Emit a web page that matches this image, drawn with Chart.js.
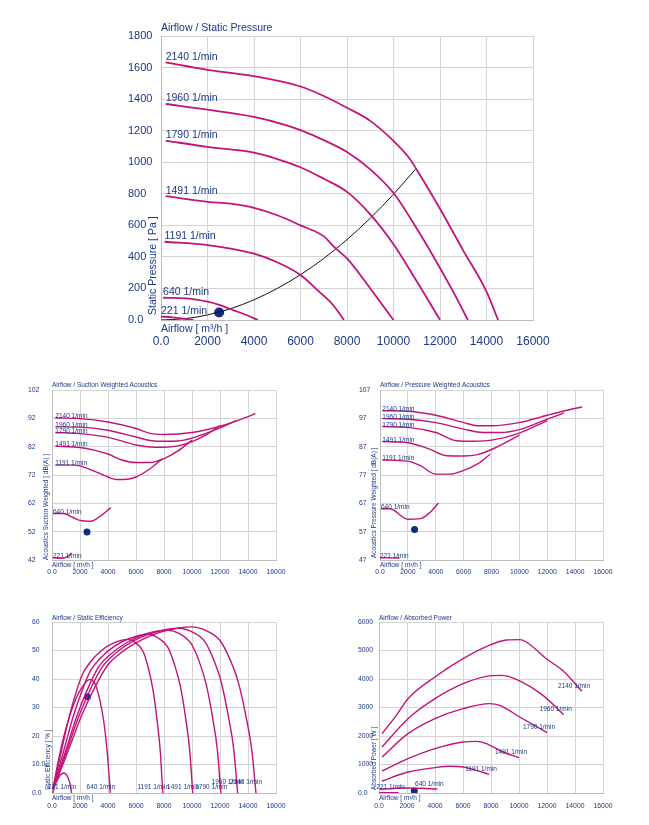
<!DOCTYPE html>
<html><head><meta charset="utf-8">
<script src="https://cdn.jsdelivr.net/npm/chart.js@4.4.1/dist/chart.umd.min.js"></script>
<style>
html,body{margin:0;padding:0;background:#fff;width:649px;height:825px;overflow:hidden}
canvas{position:absolute}
</style></head><body>
<canvas id="c1" width="465" height="345" style="left:100px;top:10px"></canvas>
<canvas id="c2" width="290" height="205" style="left:10px;top:375px"></canvas>
<canvas id="c3" width="300" height="205" style="left:335px;top:375px"></canvas>
<canvas id="c4" width="290" height="215" style="left:10px;top:605px"></canvas>
<canvas id="c5" width="300" height="215" style="left:335px;top:605px"></canvas>
<script>
// ---------- data ----------
const speeds = ['2140','1960','1790','1491','1191','640','221'];
const xTickLabels = ['0.0','2000','4000','6000','8000','10000','12000','14000','16000'];
const pressureTickLabels = ['0.0','200','400','600','800','1000','1200','1400','1600','1800'];
const suctionTickLabels = ['42','52','62','72','82','92','102'];
const pressureDbTickLabels = ['47','57','67','77','87','97','107'];
const efficiencyTickLabels = ['0.0','10.0','20','30','40','50','60'];
const powerTickLabels = ['0.0','1000','2000','3000','4000','5000','6000'];

// Airflow / Static Pressure  [m3/h, Pa]
const staticPressure = [
  [[200,1633],[2000,1585],[4000,1545],[6000,1480],[7000,1420],[8000,1345],[9000,1262],[10000,1135],[10700,1022],[11000,952],[12000,705],[13000,440],[14000,180],[14500,0]],
  [[200,1369],[2000,1333],[4000,1287],[5400,1234],[6000,1203],[7000,1140],[8000,1065],[9000,955],[10000,805],[11000,580],[12000,330],[12600,170],[13200,0]],
  [[200,1137],[2000,1097],[4000,1061],[5000,1020],[6000,968],[7000,895],[8000,812],[9000,670],[10000,480],[11000,245],[12000,0]],
  [[200,785],[2000,749],[3000,737],[4000,711],[5000,664],[6000,600],[7000,530],[7500,455],[8000,390],[9000,200],[10000,0]],
  [[150,496],[2000,475],[3000,452],[4000,420],[5000,366],[6000,285],[6800,180],[7400,95],[7870,0]],
  [[90,141],[1100,137],[2000,116],[2500,96],[3100,63],[3700,30],[4170,0]],
  [[0,22],[500,17],[1000,8],[1400,0]]
];
const systemCurve = [[0,0],[1000,8],[2000,32],[3000,72],[4000,128],[5000,200],[6000,287],[7000,390],[8000,510],[9000,645],[10000,797],[10950,956]];
const pressureDot = [2500,47];

// Airflow / Suction Weighted Acoustics [dB(A)]
const suctionAcoustics = [
  [[238,92.1],[2000,91.9],[4000,90.7],[6000,88.4],[7000,86.7],[8000,86.3],[10000,87.0],[12000,89.2],[14000,92.6],[14520,93.7]],
  [[238,89.0],[2000,88.9],[4000,87.8],[6000,85.4],[7000,84.2],[8000,83.9],[9000,84.0],[10000,85.0],[12000,88.6],[13200,91.3]],
  [[238,87.0],[2000,86.6],[4000,85.3],[6000,82.6],[7000,81.9],[8000,81.8],[9000,82.3],[10000,83.8],[11000,86.2],[12000,89.4]],
  [[238,82.2],[2000,81.7],[3000,80.8],[4000,79.4],[5000,77.3],[6000,76.4],[7000,76.4],[8000,77.8],[9000,80.5],[10000,84.3]],
  [[238,75.5],[1500,75.5],[2000,75.2],[3000,73.4],[4000,71.3],[4600,70.4],[5500,70.6],[6000,71.3],[7000,74.2],[7900,77.8]],
  [[72,58.4],[800,58.4],[1500,57.0],[2000,56.0],[2800,55.7],[3400,57.3],[4200,60.5]],
  [[72,42.8],[700,42.6],[1100,43.2],[1400,44.5]]
];
const suctionDot = [2500,51.9];

// Airflow / Pressure Weighted Acoustics [dB(A)]
const pressureAcoustics = [
  [[167,99.7],[2000,99.5],[4000,98.1],[6000,95.5],[7000,94.4],[8000,94.4],[10000,95.5],[12000,98.1],[13200,99.6],[14500,101.0]],
  [[167,96.9],[2000,96.7],[4000,95.5],[6000,93.2],[7400,92.0],[8700,92.0],[10000,93.0],[12000,96.7],[13200,98.9]],
  [[167,94.1],[2000,93.8],[4000,92.0],[5500,89.1],[6700,88.9],[8000,89.3],[10000,91.8],[12000,96.2]],
  [[167,88.8],[2000,88.4],[3500,86.2],[4800,83.8],[6000,83.7],[7000,84.2],[8000,86.0],[10000,91.1]],
  [[167,82.3],[2000,81.9],[2900,80.3],[4000,77.3],[5000,77.3],[6000,78.6],[7000,80.9],[7900,84.3]],
  [[72,65.1],[700,65.1],[2000,61.4],[2900,61.6],[3500,63.4],[4200,67.1]],
  [[0,47.8],[1400,47.7]]
];
const pressureDbDot = [2480,57.8];

// Airflow / Static Efficiency [%]
const staticEfficiency = [
  [[70,1.5],[700,9],[1400,18],[2100,27],[3100,37.5],[4000,45],[5000,49.5],[6500,54],[8000,56.8],[9970,58.3],[11000,57],[12000,53.5],[12700,47],[13300,39],[13850,27],[14260,15.5],[14570,0]],
  [[70,1.5],[640,8.9],[1270,17.9],[1910,26.8],[2820,37.2],[3640,44.6],[4550,49.1],[5920,53.6],[7280,56.3],[9070,57.8],[10010,56.5],[10920,53.1],[11560,46.6],[12100,38.7],[12600,26.8],[12980,15.4],[13260,0]],
  [[70,1.5],[580,8.8],[1160,17.6],[1740,26.5],[2570,36.8],[3310,44.1],[4140,48.5],[5380,52.9],[6620,55.7],[8260,57.1],[9110,55.9],[9940,52.4],[10520,46.1],[11010,38.2],[11470,26.5],[11810,15.2],[12060,0]],
  [[70,1.5],[480,8.6],[970,17.2],[1450,25.8],[2140,35.8],[2760,43],[3450,47.3],[4490,51.6],[5520,54.2],[6880,55.7],[7590,54.4],[8280,51.1],[8760,44.9],[9180,37.2],[9560,25.8],[9840,14.8],[10050,0]],
  [[70,1.5],[380,8.3],[760,16.7],[1140,25],[1680,34.7],[2170,41.6],[2720,45.8],[3530,50],[4340,52.5],[5410,53.9],[5970,52.7],[6520,49.5],[6900,43.5],[7220,36],[7520,25],[7740,14.3],[7910,0]],
  [[70,1.5],[400,10],[800,19],[1200,26],[1700,33],[2200,37.5],[2700,39.8],[3100,38],[3400,33],[3700,25],[3950,14],[4170,0]],
  [[50,0],[200,2.5],[400,4.8],[600,6.3],[850,7],[1050,6.3],[1250,4],[1400,0]]
];
const efficiencyDot = [2530,33.8];

// Airflow / Absorbed Power [W]
const absorbedPower = [
  [[214,2082],[1240,2725],[2070,3310],[4000,4070],[6000,4713],[8000,5205],[9100,5368],[10050,5380],[10520,5298],[11950,4713],[13140,4290],[14500,3567]],
  [[214,1614],[2070,2608],[4000,3310],[6000,3836],[7670,4094],[8760,4128],[9810,3988],[11710,3427],[13190,2749]],
  [[214,1263],[2070,2082],[4000,2608],[6000,2959],[7900,3135],[8620,3076],[10050,2667],[12000,2117]],
  [[214,772],[2070,1205],[4000,1556],[6000,1789],[6950,1813],[7670,1731],[8860,1439],[10000,1240]],
  [[214,421],[2070,737],[4000,889],[5050,936],[6000,912],[6950,795],[7860,655]],
  [[50,130],[1000,160],[2000,175],[3000,165],[4170,140]],
  [[0,12],[1400,12]]
];
const powerDot = [2520,70];

// ---------- styling / helpers ----------
const FONT = "'Liberation Sans', Arial, Helvetica, sans-serif";
const INK = '#1b3887';
const CURVE = '#c2137a';
const DOT = '#0c2c86';
const GRID = '#d4d4d4';
const BORDER = '#bcbcbc';

const decor = {
  id: 'decor',
  afterDatasetsDraw(chart, args, o) {
    const {ctx, chartArea: a, scales: {x, y}} = chart;
    ctx.save();
    ctx.fillStyle = INK;
    ctx.textBaseline = 'middle';
    ctx.textAlign = 'left';
    ctx.font = o.font;
    ctx.fillText(o.title, a.left, a.top - o.titleGap);
    ctx.fillText(o.xTitle, a.left, a.bottom + o.xTitleGap);
    ctx.save();
    ctx.translate(a.left - o.yTitleDx, a.bottom - o.yTitleDy);
    ctx.rotate(-Math.PI / 2);
    ctx.fillText(o.yTitle, 0, 0);
    ctx.restore();
    ctx.font = o.labelFont;
    ctx.textAlign = o.labelAlign;
    chart.data.datasets.forEach((ds, i) => {
      if (!ds.curveLabel) return;
      const pts = ds.data;
      const p = o.labelAt === 'start' ? pts[0] : pts[pts.length - 1];
      const off = (o.labelOffsets && o.labelOffsets[i]) || o.labelOffset;
      const px = x.getPixelForValue(p.x) + off[0];
      const py = y.getPixelForValue(p.y) + off[1];
      ctx.fillText(ds.curveLabel, Math.max(px, a.left - 4), py);
    });
    ctx.restore();
  }
};

function curveSets(curves, width) {
  return curves.map((pts, i) => ({
    data: pts.map(([x, y]) => ({x, y})),
    curveLabel: speeds[i] + ' 1/min',
    borderColor: CURVE, backgroundColor: CURVE, borderWidth: width,
    pointRadius: 0, showLine: true, cubicInterpolationMode: 'monotone', fill: false
  }));
}
function dotSet(pt, r) {
  return {data: [{x: pt[0], y: pt[1]}], pointRadius: r, pointBackgroundColor: DOT,
    pointBorderColor: DOT, borderWidth: 0, showLine: false};
}

function build(id, o) {
  return new Chart(document.getElementById(id), {
    type: 'scatter',
    data: {datasets: o.datasets},
    options: {
      responsive: false, animation: false, events: [],
      layout: {padding: o.pad},
      plugins: {legend: {display: false}, tooltip: {enabled: false}, decor: o.decor},
      scales: {
        x: {
          type: 'linear', min: 0, max: 16000,
          grid: {color: GRID, drawTicks: false, lineWidth: 1},
          border: {color: BORDER},
          ticks: {stepSize: 2000, autoSkip: false, maxRotation: 0, minRotation: 0,
            callback: (v, i) => xTickLabels[i], color: INK,
            font: {family: FONT, size: o.xTickSize}, padding: o.xTickPad},
          afterFit: s => { s.height = o.xH; }
        },
        y: {
          type: 'linear', min: o.yMin, max: o.yMax,
          grid: {color: GRID, drawTicks: false, lineWidth: 1},
          border: {color: BORDER},
          ticks: {stepSize: o.yStep, autoSkip: false, crossAlign: 'far', padding: 0,
            callback: (v, i) => o.yLabels[i], color: INK,
            font: {family: FONT, size: o.yTickSize}},
          afterFit: s => { s.width = o.yW; }
        }
      }
    },
    plugins: [decor]
  });
}

const bigFont = '10.5px ' + FONT;
const smallFont = '6.5px ' + FONT;

// Top: static pressure
build('c1', {
  datasets: [
    ...curveSets(staticPressure, 1.8),
    {data: systemCurve.map(([x, y]) => ({x, y})), borderColor: '#111', borderWidth: 1,
      pointRadius: 0, showLine: true, cubicInterpolationMode: 'monotone'},
    dotSet(pressureDot, 5)
  ],
  pad: {left: 28, top: 26, right: 32, bottom: 0}, yW: 33, xH: 35,
  xTickSize: 12, yTickSize: 11, xTickPad: 14,
  yMin: 0, yMax: 1800, yStep: 200, yLabels: pressureTickLabels,
  decor: {title: 'Airflow / Static Pressure', xTitle: 'Airflow [ m³/h ]', yTitle: 'Static Pressure [ Pa ]',
    font: bigFont, titleGap: 7.5, xTitleGap: 9, yTitleDx: 7.5, yTitleDy: 5,
    labelFont: bigFont, labelAt: 'start', labelAlign: 'left', labelOffset: [0, -5.5]}
});

// Suction weighted acoustics
build('c2', {
  datasets: [...curveSets(suctionAcoustics, 1.4), dotSet(suctionDot, 3.5)],
  pad: {left: 18, top: 15, right: 24, bottom: 0}, yW: 24, xH: 20,
  xTickSize: 6.8, yTickSize: 6.8, xTickPad: 8.5,
  yMin: 42, yMax: 102, yStep: 10, yLabels: suctionTickLabels,
  decor: {title: 'Airflow / Suction Weighted Acoustics', xTitle: 'Airflow [ m³/h ]',
    yTitle: 'Acoustics Suction Weighted [ dB(A) ]',
    font: smallFont, titleGap: 5, xTitleGap: 5.7, yTitleDx: 5.5, yTitleDy: 0,
    labelFont: smallFont, labelAt: 'start', labelAlign: 'left', labelOffset: [0, -1.5]}
});

// Pressure weighted acoustics
build('c3', {
  datasets: [...curveSets(pressureAcoustics, 1.4), dotSet(pressureDbDot, 3.5)],
  pad: {left: 24, top: 15, right: 32, bottom: 0}, yW: 21, xH: 20,
  xTickSize: 6.8, yTickSize: 6.8, xTickPad: 8.5,
  yMin: 47, yMax: 107, yStep: 10, yLabels: pressureDbTickLabels,
  decor: {title: 'Airflow / Pressure Weighted Acoustics', xTitle: 'Airflow [ m³/h ]',
    yTitle: 'Acoustics Pressure Weighted [ dB(A) ]',
    font: smallFont, titleGap: 5, xTitleGap: 5.7, yTitleDx: 5.7, yTitleDy: 2,
    labelFont: smallFont, labelAt: 'start', labelAlign: 'left', labelOffset: [0, -1.5]}
});

// Static efficiency
build('c4', {
  datasets: [...curveSets(staticEfficiency, 1.4), dotSet(efficiencyDot, 3.5)],
  pad: {left: 22, top: 17, right: 24, bottom: 0}, yW: 20, xH: 27,
  xTickSize: 6.8, yTickSize: 6.8, xTickPad: 9.4,
  yMin: 0, yMax: 60, yStep: 10, yLabels: efficiencyTickLabels,
  decor: {title: 'Airflow / Static Efficiency', xTitle: 'Airflow [ m³/h ]',
    yTitle: 'Static Efficiency [ % ]',
    font: smallFont, titleGap: 3.6, xTitleGap: 5.6, yTitleDx: 4, yTitleDy: 3,
    labelFont: smallFont, labelAt: 'end', labelAlign: 'center', labelOffset: [-9.5, -6],
    labelOffsets: [[-10, -11], [-10, -11]]}
});

// Absorbed power
build('c5', {
  datasets: [...curveSets(absorbedPower, 1.4), dotSet(powerDot, 3.5)],
  pad: {left: 23, top: 17, right: 32, bottom: 0}, yW: 21, xH: 27,
  xTickSize: 6.8, yTickSize: 6.8, xTickPad: 9.4,
  yMin: 0, yMax: 6000, yStep: 1000, yLabels: powerTickLabels,
  decor: {title: 'Airflow / Absorbed Power', xTitle: 'Airflow [ m³/h ]',
    yTitle: 'Absorbed Power [ W ]',
    font: smallFont, titleGap: 3.6, xTitleGap: 5.6, yTitleDx: 4.7, yTitleDy: 3,
    labelFont: smallFont, labelAt: 'end', labelAlign: 'center', labelOffset: [-8, -5]}
});
</script>
</body></html>
